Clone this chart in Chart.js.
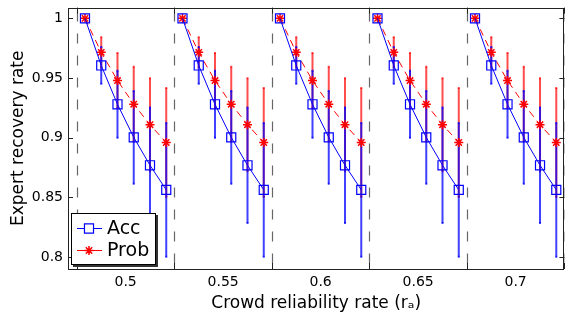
<!DOCTYPE html>
<html><head><meta charset="utf-8">
<script src="https://cdn.jsdelivr.net/npm/chart.js@4/dist/chart.umd.min.js"></script>
<style>html,body{margin:0;padding:0;background:#fff;}#wrap{width:572px;height:320px;}</style>
</head><body><div id="wrap"><canvas id="c" width="572" height="320"></canvas></div>
<script>
// ---- data ----
const groupLabels = ['0.5', '0.55', '0.6', '0.65', '0.7'];
const yTickValues = [0.8, 0.85, 0.9, 0.95, 1];
// Acc: mean and half error per group (6 points per group)
const accMean = [
  [1.000, 0.9605, 0.928, 0.9003, 0.8769, 0.8563],
  [1.000, 0.9605, 0.928, 0.9003, 0.8769, 0.8563],
  [1.000, 0.9605, 0.928, 0.9003, 0.8769, 0.8563],
  [1.000, 0.9605, 0.928, 0.9003, 0.8769, 0.8563],
  [1.000, 0.9605, 0.928, 0.9003, 0.8769, 0.8563]
];
const accErr = [
  [0, 0.0154, 0.0281, 0.0388, 0.0483, 0.056],
  [0, 0.0154, 0.0281, 0.0388, 0.0483, 0.056],
  [0, 0.0154, 0.0281, 0.0388, 0.0483, 0.056],
  [0, 0.0154, 0.0281, 0.0388, 0.0483, 0.056],
  [0, 0.0154, 0.0281, 0.0388, 0.0483, 0.056]
];
// Prob
const probMean = [
  [1.000, 0.9715, 0.9479, 0.9281, 0.9109, 0.896],
  [1.000, 0.9715, 0.9479, 0.9281, 0.9109, 0.896],
  [1.000, 0.9715, 0.9479, 0.9281, 0.9109, 0.896],
  [1.000, 0.9715, 0.9479, 0.9281, 0.9109, 0.896],
  [1.000, 0.9715, 0.9479, 0.9281, 0.9109, 0.896]
];
const probErr = [
  [0, 0.0126, 0.023, 0.0313, 0.039, 0.0456],
  [0, 0.0126, 0.023, 0.0313, 0.039, 0.0456],
  [0, 0.0126, 0.023, 0.0313, 0.039, 0.0456],
  [0, 0.0126, 0.023, 0.0313, 0.039, 0.0456],
  [0, 0.0126, 0.023, 0.0313, 0.039, 0.0456]
];

const PER = 6; // points per group
function buildSeries(mean, err) {
  const pts = [];
  mean.forEach((arr, g) => {
    arr.forEach((v, j) => pts.push({x: g * PER + j + 0.5, y: v, e: err[g][j]}));
    if (g < mean.length - 1) pts.push({x: (g + 1) * PER, y: null, e: 0});
  });
  return pts;
}
const accData = buildSeries(accMean, accErr);
const probData = buildSeries(probMean, probErr);

const BLUE = '#0000ff', RED = '#ff0000';
const FONT = "'DejaVu Sans', sans-serif";
Chart.defaults.font.family = FONT;
Chart.defaults.color = '#000';

const decor = {
  id: 'decor',
  beforeDatasetsDraw(chart) {
    const {ctx, chartArea: a, scales: {x, y}} = chart;
    ctx.save();
    ctx.beginPath(); ctx.rect(a.left, a.top, a.right - a.left, a.bottom - a.top); ctx.clip();
    // dashed group separators
    ctx.strokeStyle = '#666'; ctx.lineWidth = 1.2; ctx.setLineDash([10, 12]);
    for (let g = 0; g <= groupLabels.length; g++) {
      const px = Math.round(x.getPixelForValue(g * PER)) + 0.5;
      ctx.beginPath(); ctx.moveTo(px, a.top + 4); ctx.lineTo(px, a.bottom); ctx.stroke();
    }
    ctx.setLineDash([]);
    // error bars
    const bars = [[probData, 'rgba(255,0,0,0.7)'], [accData, 'rgba(0,0,255,0.75)']];
    bars.forEach(([data, col]) => {
      ctx.strokeStyle = col; ctx.lineWidth = 2;
      data.forEach(p => {
        if (p.y === null || !p.e) return;
        const px = x.getPixelForValue(p.x);
        const y1 = y.getPixelForValue(p.y + p.e), y2 = y.getPixelForValue(p.y - p.e);
        ctx.beginPath(); ctx.moveTo(px, y1); ctx.lineTo(px, y2); ctx.stroke();
        ctx.beginPath(); ctx.moveTo(px - 1, y1); ctx.lineTo(px + 1, y1);
        ctx.moveTo(px - 1, y2); ctx.lineTo(px + 1, y2); ctx.stroke();
      });
    });
    ctx.restore();
  },
  afterDraw(chart) {
    const {ctx, chartArea: a, scales: {x, y}} = chart;
    ctx.save();
    // box
    ctx.strokeStyle = '#222'; ctx.lineWidth = 1;
    ctx.strokeRect(Math.round(a.left) + 0.5, Math.round(a.top) + 0.5, Math.round(a.right - a.left) - 1, Math.round(a.bottom - a.top));
    // ticks
    ctx.beginPath();
    yTickValues.forEach(v => {
      const py = Math.round(y.getPixelForValue(v)) + 0.5;
      ctx.moveTo(a.left, py); ctx.lineTo(a.left + 5, py);
      ctx.moveTo(a.right, py); ctx.lineTo(a.right - 5, py);
    });
    for (let g = 0; g <= groupLabels.length; g++) {
      const px = Math.round(x.getPixelForValue(g * PER)) + 0.5;
      ctx.moveTo(px, a.bottom); ctx.lineTo(px, a.bottom - 6);
      ctx.moveTo(px, a.top); ctx.lineTo(px, a.top + 6);
    }
    ctx.stroke();
    // legend
    const lx = 71, ly = 213, lw = 85, lh = 52;
    ctx.fillStyle = '#333'; ctx.fillRect(lx + 2, ly + 2, lw, lh);
    ctx.fillStyle = '#fff'; ctx.fillRect(lx, ly, lw, lh);
    ctx.strokeStyle = '#000'; ctx.lineWidth = 1; ctx.strokeRect(lx + 0.5, ly + 0.5, lw - 1, lh - 1);
    const items = [
      {label: 'Acc', col: BLUE, style: 'rect', r: 6.4, bw: 1.2, dash: []},
      {label: 'Prob', col: RED, style: 'star', r: 4.5, bw: 1.5, dash: []}
    ];
    items.forEach((it, i) => {
      const cy = ly + 15 + i * 22;
      ctx.strokeStyle = it.col; ctx.lineWidth = 1; ctx.setLineDash(it.dash);
      ctx.beginPath(); ctx.moveTo(lx + 6, cy + 0.5); ctx.lineTo(lx + 31, cy + 0.5); ctx.stroke();
      ctx.setLineDash([]);
      ctx.lineWidth = it.bw;
      Chart.helpers.drawPoint(ctx, {pointStyle: it.style, radius: it.r, rotation: 0, borderWidth: it.bw}, lx + 18, cy + 0.5);
      ctx.fillStyle = '#000'; ctx.font = '19px ' + FONT; ctx.textBaseline = 'middle'; ctx.textAlign = 'left';
      ctx.fillText(it.label, lx + 36, cy + 1);
    });
    ctx.restore();
  }
};

new Chart(document.getElementById('c'), {
  type: 'line',
  data: {
    datasets: [
      {label: 'Acc', data: accData, borderColor: BLUE, borderWidth: 1, pointStyle: 'rect', pointRadius: 6.4,
       pointBorderColor: BLUE, pointBackgroundColor: 'rgba(0,0,0,0)', pointBorderWidth: 1.2, spanGaps: false, tension: 0, fill: false},
      {label: 'Prob', data: probData, borderColor: RED, borderWidth: 1, borderDash: [7, 5], pointStyle: 'star', pointRadius: 4.5,
       pointBorderColor: RED, pointBackgroundColor: RED, pointBorderWidth: 1.5, spanGaps: false, tension: 0, fill: false}
    ]
  },
  options: {
    responsive: false, animation: false, devicePixelRatio: 1,
    parsing: {xAxisKey: 'x', yAxisKey: 'y'},
    layout: {padding: {top: 3, right: 1, left: 0, bottom: 0}},
    plugins: {legend: {display: false}, tooltip: {enabled: false}},
    scales: {
      x: {
        type: 'linear', min: -0.545, max: 30,
        afterBuildTicks: s => { s.ticks = groupLabels.map((_, i) => ({value: i * PER + PER / 2})); },
        afterFit: s => { s.height = 51; s.paddingLeft = 0; s.paddingRight = 0; },
        ticks: {callback: v => groupLabels[Math.round((v - PER / 2) / PER)], font: {size: 14}, color: '#000', maxRotation: 0, autoSkip: false, padding: 5},
        grid: {display: false, drawTicks: false}, border: {display: false},
        title: {display: true, text: 'Crowd reliability rate (rₐ)', font: {size: 17}, color: '#000', padding: {top: 2, bottom: 6}}
      },
      y: {
        type: 'linear', min: 0.79, max: 1.009,
        afterBuildTicks: s => { s.ticks = yTickValues.map(v => ({value: v})); },
        afterFit: s => { s.width = 68; s.paddingTop = 0; s.paddingBottom = 0; },
        ticks: {callback: v => String(v), font: {size: 14}, color: '#000', padding: 5},
        grid: {display: false, drawTicks: false}, border: {display: false},
        title: {display: true, text: 'Expert recovery rate', font: {size: 17}, color: '#000', padding: {top: 8, bottom: 0}}
      }
    }
  },
  plugins: [decor]
});
</script></body></html>
